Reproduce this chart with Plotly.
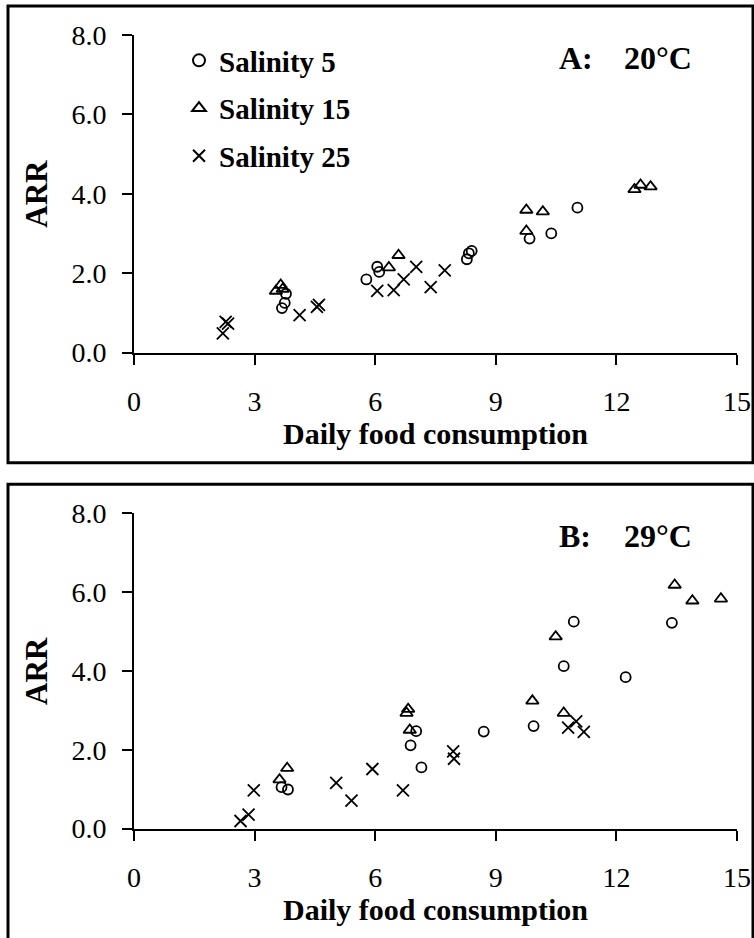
import plotly.graph_objects as go

# ---- data: daily food consumption (x) vs ARR (y) ----
# Panel A, 20 °C
s5_a_x = [3.68, 3.75, 3.78, 5.78, 6.05, 6.10, 8.28, 8.33, 8.40, 9.84, 10.38, 11.03]
s5_a_y = [1.12, 1.25, 1.48, 1.84, 2.16, 2.03, 2.35, 2.50, 2.56, 2.87, 3.00, 3.65]
s15_a_x = [3.53, 3.65, 3.70, 6.34, 6.58, 9.76, 9.76, 10.17, 12.45, 12.60, 12.85]
s15_a_y = [1.55, 1.70, 1.60, 2.14, 2.45, 3.06, 3.59, 3.55, 4.11, 4.22, 4.18]
s25_a_x = [2.21, 2.28, 2.34, 4.12, 4.55, 4.60, 6.05, 6.46, 6.71, 7.02, 7.38, 7.73]
s25_a_y = [0.48, 0.77, 0.73, 0.94, 1.15, 1.20, 1.55, 1.57, 1.84, 2.16, 1.65, 2.07]

# Panel B, 29 °C
s5_b_x = [3.67, 3.83, 6.88, 7.02, 7.15, 8.70, 9.94, 10.69, 10.94, 12.23, 13.38]
s5_b_y = [1.05, 0.99, 2.11, 2.47, 1.55, 2.46, 2.60, 4.12, 5.25, 3.84, 5.22]
s15_b_x = [3.62, 3.81, 6.78, 6.82, 6.86, 9.91, 10.49, 10.69, 13.45, 13.89, 14.60]
s15_b_y = [1.24, 1.53, 2.93, 3.03, 2.50, 3.24, 4.87, 2.93, 6.18, 5.78, 5.83]
s25_b_x = [2.65, 2.85, 2.98, 5.03, 5.41, 5.93, 6.69, 7.94, 7.96, 10.80, 11.00, 11.19]
s25_b_y = [0.19, 0.35, 0.97, 1.16, 0.71, 1.51, 0.97, 1.96, 1.77, 2.56, 2.72, 2.45]

series_names = ["Salinity 5", "Salinity 15", "Salinity 25"]
x_ticks = [0, 3, 6, 9, 12, 15]
y_ticks = [0, 2, 4, 6, 8]
y_tick_text = ["0.0", "2.0", "4.0", "6.0", "8.0"]
panel_labels = ["A:", "B:"]
panel_temps = ["20°C", "29°C"]

W, H = 754, 938
SERIF = "'Liberation Serif', 'Times New Roman', Times, 'DejaVu Serif', serif"


def px_x(p):
    return p / W


def px_y(p):
    return (H - p) / H


markers = [
    dict(symbol="circle-open", size=10, line=dict(width=1.8, color="black"), color="black"),
    dict(symbol="triangle-up-open", size=11, line=dict(width=1.8, color="black"), color="black"),
    dict(symbol="x-thin-open", size=12, line=dict(width=1.8, color="black"), color="black"),
]

fig = go.Figure()

panels = [
    ("x", "y", [(s5_a_x, s5_a_y), (s15_a_x, s15_a_y), (s25_a_x, s25_a_y)], True),
    ("x2", "y2", [(s5_b_x, s5_b_y), (s15_b_x, s15_b_y), (s25_b_x, s25_b_y)], False),
]
for xa, ya, series, show in panels:
    for i, (xs, ys) in enumerate(series):
        fig.add_trace(go.Scatter(
            x=xs, y=ys, mode="markers", name=series_names[i],
            marker=markers[i], xaxis=xa, yaxis=ya,
            showlegend=show, legendgroup=series_names[i],
            cliponaxis=False,
        ))

# plot-area geometry (pixels)
x_left, x_right = 134, 737
panel_geo = [dict(top=35, bottom=352.5, box_top=6, box_bottom=462.7),
             dict(top=513.3, bottom=828.5, box_top=484.3, box_bottom=945)]

tick_font = dict(family=SERIF, size=28, color="black")
axis_common = dict(showline=True, linewidth=2, linecolor="black", ticks="outside",
                   ticklen=10, tickwidth=2, tickcolor="black", showgrid=False,
                   zeroline=False, tickfont=tick_font, automargin=False)

layout_axes = {}
for k, g in enumerate(panel_geo):
    sfx = "" if k == 0 else "2"
    layout_axes["xaxis" + sfx] = dict(
        axis_common, domain=[px_x(x_left), px_x(x_right)], range=[0, 15],
        tickvals=x_ticks, anchor="y" + sfx, ticklabelstandoff=13)
    layout_axes["yaxis" + sfx] = dict(
        axis_common, domain=[px_y(g["bottom"]), px_y(g["top"])], range=[0, 8],
        tickvals=y_ticks, ticktext=y_tick_text, anchor="x" + sfx,
        ticklabelstandoff=10)

shapes = []
annotations = []
for k, g in enumerate(panel_geo):
    shapes.append(dict(type="rect", xref="paper", yref="paper",
                       x0=px_x(8), x1=px_x(753), y0=px_y(g["box_bottom"]), y1=px_y(g["box_top"]),
                       line=dict(color="black", width=3)))
    mid_y = (g["top"] + g["bottom"]) / 2
    annotations.append(dict(text="<b>ARR</b>", x=px_x(37), y=px_y(mid_y), xref="paper", yref="paper",
                            textangle=-90, showarrow=False, xanchor="center", yanchor="middle",
                            font=dict(family=SERIF, size=31, color="black")))
    annotations.append(dict(text="<b>Daily food consumption</b>", x=px_x((x_left + x_right) / 2),
                            y=px_y(g["bottom"] + 81), xref="paper", yref="paper", showarrow=False,
                            xanchor="center", yanchor="middle",
                            font=dict(family=SERIF, size=30, color="black")))
    annotations.append(dict(text="<b>" + panel_labels[k] + "</b>", x=px_x(557), y=px_y(g["top"] + 23),
                            xref="paper", yref="paper", showarrow=False, xanchor="left", yanchor="middle",
                            font=dict(family=SERIF, size=32, color="black")))
    annotations.append(dict(text="<b>" + panel_temps[k] + "</b>", x=px_x(622), y=px_y(g["top"] + 23),
                            xref="paper", yref="paper", showarrow=False, xanchor="left", yanchor="middle",
                            font=dict(family=SERIF, size=32, color="black")))

fig.update_layout(
    template="none",
    width=W, height=H,
    margin=dict(l=0, r=0, t=0, b=0, pad=0, autoexpand=False),
    paper_bgcolor="white", plot_bgcolor="white",
    shapes=shapes, annotations=annotations,
    legend=dict(x=px_x(179), y=px_y(35), xanchor="left", yanchor="top",
                bgcolor="rgba(0,0,0,0)", borderwidth=0, tracegroupgap=7,
                itemsizing="constant",
                font=dict(family=SERIF, size=29, color="black", weight="bold")),
    **layout_axes,
)

fig.write_html("out.html")
